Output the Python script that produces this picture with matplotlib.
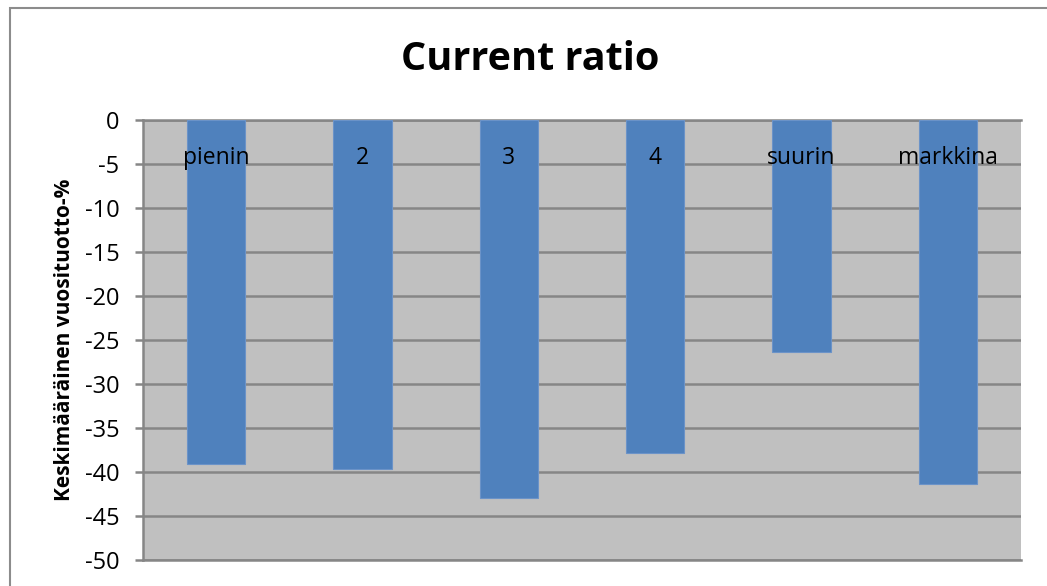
import matplotlib.pyplot as plt
import matplotlib.transforms as mtransforms
from matplotlib.patches import Rectangle

categories = ["pienin", "2", "3", "4", "suurin", "markkina"]
values = [-39.1, -39.7, -43.0, -37.8, -26.4, -41.4]
yticks = [0, -5, -10, -15, -20, -25, -30, -35, -40, -45, -50]

plt.rcParams['font.family'] = ['Open Sans', 'DejaVu Sans']

W, H = 1047, 586
fig = plt.figure(figsize=(W / 100, H / 100), dpi=100)
fig.patch.set_facecolor('white')

# outer chart frame
fig.add_artist(Rectangle((9.5 / W, -0.1), 1.2, (H - 7.5) / H + 0.1,
                         transform=fig.transFigure, fill=False,
                         edgecolor='#8c8c8c', linewidth=1.5))

left, right = 143 / W, 1021 / W
top, bottom = 1 - 120 / H, 1 - 560 / H
ax = fig.add_axes([left, bottom, right - left, top - bottom])
ax.set_facecolor('#c0c0c0')

x = list(range(len(categories)))
ax.bar(x, values, width=0.4, color='#4f81bd', edgecolor='#6b93c8',
       linewidth=0.8, zorder=3)

ax.set_xlim(-0.5, len(categories) - 0.5)
ax.set_ylim(-50, 0)
ax.set_yticks(yticks)
ax.set_yticklabels([str(v) for v in yticks], fontsize=17)
ax.yaxis.grid(True, color='#868686', linewidth=1.8, zorder=1)
ax.set_axisbelow(True)

# category labels sit just under the zero line, inside the plot
ax.set_xticks([])
trans = mtransforms.blended_transform_factory(ax.transData, ax.transAxes)
for xi, name in zip(x, categories):
    ax.text(xi, 1 - 38 / 440, name, transform=trans, fontsize=16.5,
            ha='center', va='center', zorder=5)

ax.spines['top'].set_color('#868686')
ax.spines['top'].set_linewidth(1.8)
ax.spines['bottom'].set_color('#868686')
ax.spines['bottom'].set_linewidth(1.8)
ax.spines['right'].set_visible(False)
ax.spines['left'].set_color('#868686')
ax.spines['left'].set_linewidth(1.8)
ax.tick_params(axis='y', length=6, width=1.8, color='#868686', pad=11)

ax.set_ylabel("Keskimääräinen vuosituotto-%", fontsize=15, fontweight='bold',
              labelpad=7)

fig.text(530 / W, 1 - 60 / H, "Current ratio", fontsize=28.5,
         fontweight='bold', ha='center', va='center')

fig.savefig('out.png', dpi=100)
